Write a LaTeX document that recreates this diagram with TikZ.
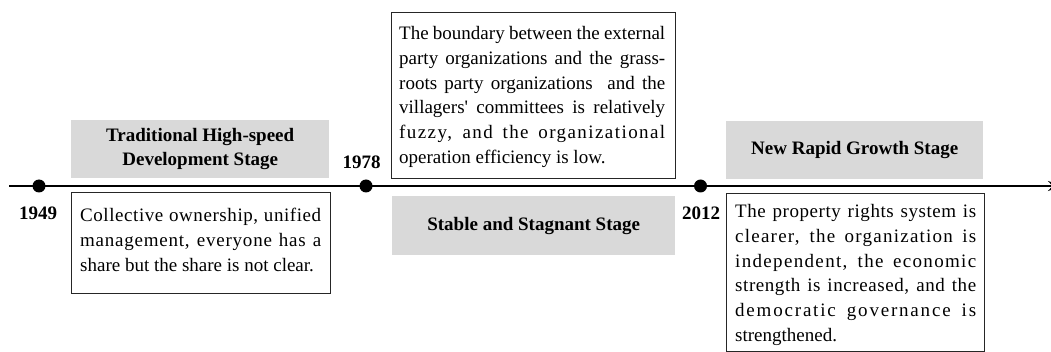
\documentclass[tikz,border=0pt]{standalone}
\usepackage{fontspec}
\setmainfont{Liberation Serif}
\usetikzlibrary{arrows.meta}
\definecolor{stagegray}{HTML}{D9D9D9}
\definecolor{framegray}{HTML}{262626}

% a line set to the full text width, with optional letter spacing
\newcommand{\fullline}[2][0]{\makebox[\linewidth][s]{\addfontfeature{LetterSpace=#1}#2}}
% straight apostrophe
\newcommand{\straightquote}{{\addfontfeature{Ligatures=TeXOff}'}}

\tikzset{
  stagebox/.style={fill=stagegray, draw=none, inner sep=0pt, anchor=north west,
    font=\bfseries\fontsize{19}{24}\selectfont, align=center},
  notebox/.style={draw=framegray, line width=1.2pt, inner sep=0pt, anchor=north west},
  notetext/.style={inner sep=0pt, anchor=base west, font=\fontsize{19}{24.8}\selectfont},
  yearlabel/.style={font=\bfseries\fontsize{19}{24}\selectfont, inner sep=0pt},
  yeardot/.style={circle, fill=black, inner sep=0pt, minimum size=13pt},
}

\begin{document}
\begin{tikzpicture}[x=1pt, y=-1pt]
\useasboundingbox (0,0) rectangle (1051,352);

% time axis
\coordinate (axisstart) at (9,186);
\coordinate (axisend) at (1062,186);
\draw[line width=2pt, -{Stealth[length=14pt,width=10pt]}] (axisstart) -- (axisend);

\node[yeardot] (d1949) at (39,186) {};
\node[yeardot] (d1978) at (366,186) {};
\node[yeardot] (d2012) at (700.5,186) {};

\node[yearlabel] (y1949) at (38,213) {1949};
\node[yearlabel] (y1978) at (361.5,162) {1978};
\node[yearlabel] (y2012) at (701,213) {2012};

% stage names
\node[stagebox, minimum width=258pt, minimum height=58pt] (s1) at (71,120)
  {Traditional High-speed\\Development Stage};
\node[stagebox, minimum width=283pt, minimum height=59pt] (s2) at (392,196)
  {Stable and Stagnant Stage};
\node[stagebox, minimum width=257pt, minimum height=58pt] (s3) at (726,121)
  {New Rapid Growth Stage};

% descriptions
\node[notebox, minimum width=259pt, minimum height=101pt] (n1) at (71,192) {};
\node[notetext] (t1) at (80,222) {\parbox[t]{241pt}{%
  \fullline[3]{Collective ownership, unified}\\
  \fullline[4]{management, everyone has a}\\
  share but the share is not clear.}};

\node[notebox, minimum width=284pt, minimum height=166pt] (n2) at (391,12) {};
\node[notetext] (t2) at (399,39.5) {\parbox[t]{266pt}{%
  \fullline{The boundary between the external}\\
  \fullline{party organizations and the grass-}\\
  \fullline{roots party organizations \ and the}\\
  \fullline{villagers\straightquote{} committees is relatively}\\
  \fullline[7.5]{fuzzy, and the organizational}\\
  operation efficiency is low.}};

\node[notebox, minimum width=258pt, minimum height=158pt] (n3) at (726,193) {};
\node[notetext] (t3) at (735,217.5) {\parbox[t]{241pt}{%
  \fullline[3]{The property rights system is}\\
  \fullline[6.5]{clearer, the organization is}\\
  \fullline[7]{independent, the economic}\\
  \fullline[3]{strength is increased, and the}\\
  \fullline[9.5]{democratic governance is}\\
  strengthened.}};
\end{tikzpicture}
\end{document}
